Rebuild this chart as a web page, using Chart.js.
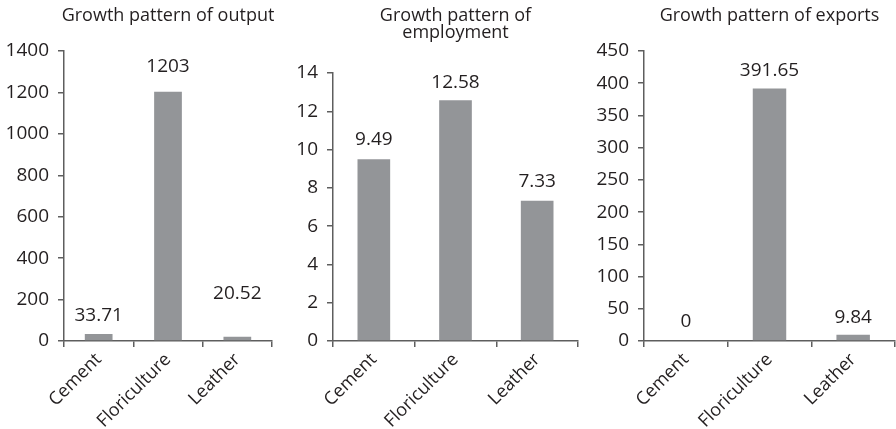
<!DOCTYPE html>
<html>
<head>
<meta charset="utf-8">
<script src="https://cdn.jsdelivr.net/npm/chart.js@4"></script>
<style>
  html, body { margin: 0; padding: 0; background: #ffffff; }
  body { width: 896px; height: 429px; position: relative; overflow: hidden; }
  .panel { position: absolute; top: 0; height: 429px; }
</style>
</head>
<body>
<div class="panel" id="p1" style="left:0px;width:285px"><canvas id="c1"></canvas></div>
<div class="panel" id="p2" style="left:285px;width:300px"><canvas id="c2"></canvas></div>
<div class="panel" id="p3" style="left:590px;width:306px"><canvas id="c3"></canvas></div>
<script>
// Sectors compared in every panel
const categories = ['Cement', 'Floriculture', 'Leather'];

// Growth figures per sector
const outputGrowth = [33.71, 1203, 20.52];
const employmentGrowth = [9.49, 12.58, 7.33];
const exportGrowth = [0, 391.65, 9.84];

// Value-axis ranges and steps
const outputAxis = { max: 1400, step: 200 };
const employmentAxis = { max: 14, step: 2 };
const exportAxis = { max: 450, step: 50 };

// Panel titles
const outputTitle = ['Growth pattern of output'];
const employmentTitle = ['Growth pattern of', 'employment'];
const exportTitle = ['Growth pattern of exports'];

const FONT = "'Open Sans', 'Noto Sans', sans-serif";
const TEXT = '#231f20';
const AXIS = '#5e5e5e';
const BAR = '#939598';

// Draws the title lines above the plot and the value labels above each bar
const annotate = {
  id: 'annotate',
  afterDatasetsDraw(chart, args, opts) {
    const ctx = chart.ctx;
    const area = chart.chartArea;
    const cx = (area.left + area.right) / 2;
    ctx.save();
    ctx.fillStyle = TEXT;
    ctx.textAlign = 'center';
    ctx.textBaseline = 'alphabetic';
    ctx.font = '18px ' + FONT;
    opts.title.forEach((line, i) => ctx.fillText(line, cx, opts.titleBaseline + i * opts.titleLineHeight));
    ctx.font = '19px ' + FONT;
    const meta = chart.getDatasetMeta(0);
    const values = chart.data.datasets[0].data;
    meta.data.forEach((bar, i) => {
      const lift = opts.labelLift[i];
      ctx.fillText(String(values[i]), bar.x, bar.y - lift);
    });
    ctx.restore();
  }
};

function makePanel(canvasId, values, axis, title, geom) {
  const el = document.getElementById(canvasId);
  return new Chart(el, {
    type: 'bar',
    data: {
      labels: categories,
      datasets: [{
        data: values,
        backgroundColor: BAR,
        borderWidth: 0,
        barPercentage: 0.4,
        categoryPercentage: 1.0
      }]
    },
    options: {
      responsive: true,
      maintainAspectRatio: false,
      animation: false,
      devicePixelRatio: 1,
      layout: { padding: { top: geom.top, right: geom.right, bottom: 0, left: 0 } },
      plugins: {
        legend: { display: false },
        tooltip: { enabled: false },
        title: { display: false },
        annotate: { title: title, titleBaseline: 21, titleLineHeight: 17, labelLift: geom.lift }
      },
      scales: {
        x: {
          offset: true,
          grid: { display: true, offset: true, drawOnChartArea: false, drawTicks: true, tickLength: 6, color: AXIS, lineWidth: 1.5 },
          border: { display: true, color: AXIS, width: 1.5 },
          ticks: { color: TEXT, font: { family: FONT, size: 18 }, maxRotation: 45, minRotation: 45, autoSkip: false, padding: 2 },
          afterFit(scale) { scale.height = 88; }
        },
        y: {
          min: 0,
          max: axis.max,
          grid: { display: true, drawOnChartArea: false, drawTicks: true, tickLength: 6, color: AXIS, lineWidth: 1.5 },
          border: { display: true, color: AXIS, width: 1.5 },
          ticks: {
            stepSize: axis.step,
            color: TEXT,
            font: { family: FONT, size: 19 },
            padding: 9,
            callback: (v) => String(v)
          },
          afterFit(scale) { scale.width = geom.yWidth; }
        }
      }
    },
    plugins: [annotate]
  });
}

makePanel('c1', outputGrowth, outputAxis, outputTitle, { top: 51, right: 13, yWidth: 64, lift: [13, 20, 38] });
makePanel('c2', employmentGrowth, employmentAxis, employmentTitle, { top: 73, right: 7, yWidth: 48, lift: [14, 12, 14] });
makePanel('c3', exportGrowth, exportAxis, exportTitle, { top: 51, right: 1, yWidth: 54, lift: [14, 13, 12] });
</script>
</body>
</html>
